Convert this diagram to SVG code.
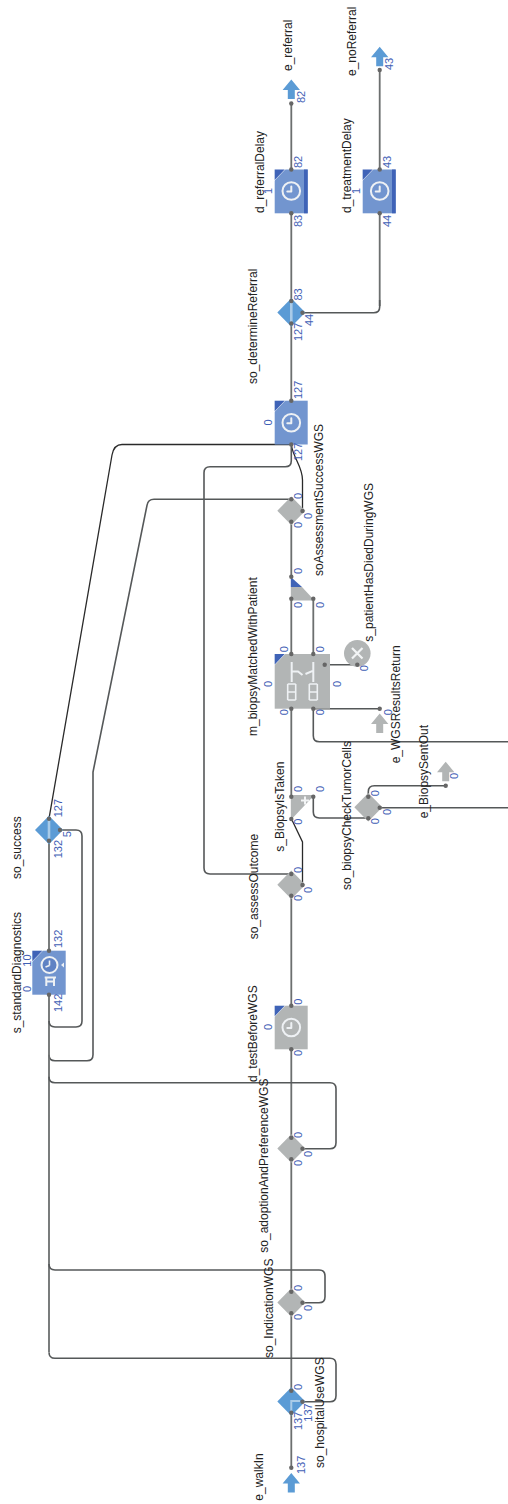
<svg xmlns="http://www.w3.org/2000/svg" width="508" height="1504" viewBox="0 0 508 1504">
<style>
text{font-family:"Liberation Sans",Arial,sans-serif}
.l{font-size:12px;fill:#222}
.n{font-size:11px;fill:#3f60b5}
.c{fill:none;stroke:#6c6f6f;stroke-width:1.8}
.d{fill:none;stroke:#555859;stroke-width:1.6}
.k{fill:none;stroke:#2a2a2a;stroke-width:1.3}
.blue{fill:#7295cf}
.gray{fill:#b2b5b5}
.dia{fill:#5b9bd5}
.fold{fill:#3f63b7}
.ic{fill:none;stroke:#eef1f4;stroke-width:2}
.ic2{fill:none;stroke:#eef1f4;stroke-width:1.6}
.dot{fill:#666}
.mark{fill:none;stroke:#a9cbe8;stroke-width:2}
</style>
<defs>
<g id="clock"><circle r="8.8" class="ic"/><path d="M0 0.500V-4.500M0 0.500H-4" class="ic" stroke-linecap="round"/></g>
<polygon id="arrow" points="0,0 8.700,10.500 3.500,10.500 3.500,19.500 -3.500,19.500 -3.500,10.500 -8.700,10.500"/>
<polygon id="diamond" points="0,-14.200 14,0 0,14.200 -14,0"/>
<g id="corner"><polygon points="-0.500,-0.500 11,-0.500 -0.500,11.500" fill="#ffffff"/><polygon points="0,0 10,0 0,10.500" class="fold"/></g>
<path id="ladder" d="M-4 -8V8M4 -8V8M-4 -8H4M-4 0H4M-4 8H4" class="ic2"/>
</defs>

<g id="connectors">
<path class="c" d="M291.300 169.500V103.500M379.700 169.500V70"/>
<path class="c" d="M291.300 213.300V301M291.300 323.500V400.700M379.700 213.300V306"/>
<path class="d" d="M302.500 312.700H373.700Q379.700 312.700 379.700 306.700V300"/>
<path class="k" d="M49 818.700L112 455Q114 444.500 122 444.500H291.300"/>
<path class="k" d="M291.300 444.500C293 458 302.500 466 302.500 480V511"/>
<path class="d" d="M291.300 444.500V460.700Q291.300 466.700 285.300 466.700H210Q204 466.700 204 472.700V868Q204 874 210 874H291.300"/>
<path class="d" d="M291.300 499.300H154Q148 499.300 147 505.300L93 772V1054.700Q93 1060.700 87 1060.700H55Q49 1060.700 49 1054.700"/>
<path class="c" d="M291.300 521.700V576.700M291.300 598.700V654M313.300 598.700V654M291.300 708.700V796.700"/>
<path class="d" d="M324.700 664.700H357.300M313.300 708.700H379.700"/>
<path class="d" d="M313.300 708.700V735.700Q313.300 741.700 319.300 741.700H508"/>
<path class="k" d="M302.500 885V842L291.500 819"/>
<path class="d" d="M313.300 796.700V812Q313.300 818 319.300 818H368.300"/>
<path class="d" d="M368.300 796.700V791.700Q368.300 785.700 374.300 785.700H445.700"/>
<path class="d" d="M379.700 807.700H508"/>
<path class="c" d="M291.300 895.700V1005.700M291.300 1049.300V1137.700M291.300 1159.300V1291.700M291.300 1313.300V1390.700M291.300 1412.700V1467.700"/>
<path class="c" d="M49 840.700V950.700M49 994.700V1352"/>
<path class="d" d="M60 830H76Q82 830 82 836V1021Q82 1027 76 1027H55Q49 1027 49 1021"/>
<path class="d" d="M49 1076.700Q49 1082.700 55 1082.700H330Q336 1082.700 336 1088.700V1142.700Q336 1148.700 330 1148.700H302.700"/>
<path class="d" d="M49 1264Q49 1270 55 1270H319Q325 1270 325 1276V1296.700Q325 1302.700 319 1302.700H302.700"/>
<path class="d" d="M49 1352.300Q49 1358.300 55 1358.300H330Q336 1358.300 336 1364.300V1395.700Q336 1401.700 330 1401.700H302.700"/>
</g>

<g id="e_referral">
<use href="#arrow" x="291.300" y="79.500" fill="#5b9bd5"/>
<circle class="dot" cx="291.300" cy="103.500" r="2.200"/>
<text class="l" transform="translate(292 71) rotate(-90)">e_referral</text>
<text class="n" transform="translate(305 103) rotate(-90)">82</text>
</g>
<g id="e_noReferral">
<use href="#arrow" x="379.700" y="46.700" fill="#5b9bd5"/>
<circle class="dot" cx="379.700" cy="70" r="2.200"/>
<text class="l" transform="translate(356 76) rotate(-90)">e_noReferral</text>
<text class="n" transform="translate(393 70) rotate(-90)">43</text>
</g>
<g id="d_referralDelay">
<rect class="blue" x="274.700" y="169.500" width="33" height="43.800"/>
<rect class="fold" x="304" y="169.500" width="3.700" height="43.800"/>
<use href="#corner" x="274.700" y="169.500"/>
<use href="#clock" x="291.300" y="191"/>
<circle class="dot" cx="291.300" cy="169.500" r="2.200"/><circle class="dot" cx="291.300" cy="213.300" r="2.200"/>
<text class="l" transform="translate(264 213) rotate(-90)">d_referralDelay</text>
<text class="n" transform="translate(272 194) rotate(-90)">1</text>
<text class="n" transform="translate(302 168) rotate(-90)">82</text>
<text class="n" transform="translate(302 227) rotate(-90)">83</text>
</g>
<g id="d_treatmentDelay">
<rect class="blue" x="362.700" y="169.500" width="33" height="43.800"/>
<rect class="fold" x="392" y="169.500" width="3.700" height="43.800"/>
<use href="#corner" x="362.700" y="169.500"/>
<use href="#clock" x="379.700" y="191"/>
<circle class="dot" cx="379.700" cy="169.500" r="2.200"/><circle class="dot" cx="379.700" cy="213.300" r="2.200"/>
<text class="l" transform="translate(350.700 213) rotate(-90)">d_treatmentDelay</text>
<text class="n" transform="translate(360 194) rotate(-90)">1</text>
<text class="n" transform="translate(391 168) rotate(-90)">43</text>
<text class="n" transform="translate(391 227) rotate(-90)">44</text>
</g>
<g id="so_determineReferral">
<use href="#diamond" x="291.300" y="312.500" class="dia"/>
<rect x="290" y="303" width="2.600" height="19" fill="#a9cbe8"/>
<circle class="dot" cx="291.300" cy="301" r="2.200"/><circle class="dot" cx="291.300" cy="323.500" r="2.200"/><circle class="dot" cx="302.500" cy="312.700" r="2.200"/>
<text class="l" transform="translate(256.700 384) rotate(-90)">so_determineReferral</text>
<text class="n" transform="translate(302 300.500) rotate(-90)">83</text>
<text class="n" transform="translate(302 341) rotate(-90)">127</text>
<text class="n" transform="translate(313 326) rotate(-90)">44</text>
</g>
<g id="assessment_delay">
<rect class="blue" x="274.700" y="400.700" width="33" height="43.800"/>
<use href="#corner" x="274.700" y="400.700"/>
<use href="#clock" x="291.300" y="422.700"/>
<circle class="dot" cx="291.300" cy="400.700" r="2.200"/><circle class="dot" cx="291.300" cy="444.500" r="2.200"/>
<text class="n" transform="translate(302 399) rotate(-90)">127</text>
<text class="n" transform="translate(302 461) rotate(-90)">127</text>
<text class="n" transform="translate(271.700 425.600) rotate(-90)">0</text>
</g>
<g id="soAssessmentSuccessWGS">
<use href="#diamond" x="291.300" y="510.700" class="gray"/>
<circle class="dot" cx="291.300" cy="499.300" r="2.200"/><circle class="dot" cx="291.300" cy="521.700" r="2.200"/><circle class="dot" cx="302.500" cy="511" r="2.200"/>
<text class="l" transform="translate(323 576) rotate(-90)">soAssessmentSuccessWGS</text>
<text class="n" transform="translate(302 499) rotate(-90)">0</text>
<text class="n" transform="translate(312 519) rotate(-90)">0</text>
<text class="n" transform="translate(302 528) rotate(-90)">0</text>
</g>
<g id="patient_gate">
<polygon class="gray" points="290.800,587 302,587 314.500,600.500 290.800,600.500"/>
<polygon class="fold" points="290.800,577 302,587 290.800,587"/>
<circle class="dot" cx="291.300" cy="576.700" r="2.200"/><circle class="dot" cx="291.300" cy="598.700" r="2.200"/><circle class="dot" cx="313.300" cy="598.700" r="2.200"/>
<text class="n" transform="translate(302 574) rotate(-90)">0</text>
<text class="n" transform="translate(302 608) rotate(-90)">0</text>
<text class="n" transform="translate(324 608) rotate(-90)">0</text>
</g>
<g id="m_biopsyMatchedWithPatient">
<rect class="gray" x="274.700" y="654" width="55.300" height="54.700"/>
<use href="#corner" x="274.700" y="654"/>
<path class="ic" d="M291.700 662V682M313.300 662V682M291.700 671.500H298L302.500 675M305.500 674L313.300 670.700"/>
<use href="#ladder" x="291.700" y="692"/>
<use href="#ladder" x="313.300" y="692"/>
<circle class="dot" cx="291.300" cy="654" r="2.200"/><circle class="dot" cx="313.300" cy="654" r="2.200"/><circle class="dot" cx="291.300" cy="708.700" r="2.200"/><circle class="dot" cx="313.300" cy="708.700" r="2.200"/><circle class="dot" cx="324.700" cy="664.700" r="2.200"/>
<text class="l" transform="translate(256.700 736) rotate(-90)">m_biopsyMatchedWithPatient</text>
<text class="n" transform="translate(288 652.300) rotate(-90)">0</text>
<text class="n" transform="translate(324 652.300) rotate(-90)">0</text>
<text class="n" transform="translate(271.700 687) rotate(-90)">0</text>
<text class="n" transform="translate(340.700 687) rotate(-90)">0</text>
<text class="n" transform="translate(288 715.300) rotate(-90)">0</text>
<text class="n" transform="translate(324 715.300) rotate(-90)">0</text>
</g>
<g id="s_patientHasDiedDuringWGS">
<circle class="gray" cx="357.300" cy="653.300" r="13.300"/>
<path d="M352 648L362.500 658.500M362.500 648L352 658.500" fill="none" stroke="#f2f4f5" stroke-width="2.200"/>
<circle class="dot" cx="357.300" cy="664.700" r="2.200"/>
<text class="l" transform="translate(372.700 641.700) rotate(-90)">s_patientHasDiedDuringWGS</text>
<text class="n" transform="translate(368.300 671.300) rotate(-90)">0</text>
</g>
<g id="e_WGSResultsReturn">
<use href="#arrow" x="379.700" y="713.500" class="gray"/>
<circle class="dot" cx="379.700" cy="708.700" r="2.200"/>
<text class="l" transform="translate(400 763.300) rotate(-90)">e_WGSResultsReturn</text>
<text class="n" transform="translate(392.300 715.300) rotate(-90)">0</text>
</g>
<g id="e_BiopsySentOut">
<use href="#arrow" x="445.700" y="761.700" class="gray"/>
<circle class="dot" cx="445.700" cy="785.700" r="2.200"/>
<text class="l" transform="translate(427.700 818.300) rotate(-90)">e_BiopsySentOut</text>
<text class="n" transform="translate(458 779) rotate(-90)">0</text>
</g>
<g id="so_biopsyCheckTumorCells">
<use href="#diamond" x="368.300" y="807.300" class="gray"/>
<circle class="dot" cx="368.300" cy="796.700" r="2.200"/><circle class="dot" cx="368.300" cy="818.300" r="2.200"/><circle class="dot" cx="379.700" cy="807.700" r="2.200"/>
<text class="l" transform="translate(350.700 890) rotate(-90)">so_biopsyCheckTumorCells</text>
<text class="n" transform="translate(379 796.300) rotate(-90)">0</text>
<text class="n" transform="translate(390.700 815) rotate(-90)">0</text>
<text class="n" transform="translate(379 824.300) rotate(-90)">0</text>
</g>
<g id="s_BiopsyIsTaken">
<polygon class="gray" points="290.800,795 314.500,795 290.800,820"/>
<path d="M301 800.500H309M305 796.500V804.500" fill="none" stroke="#f2f4f5" stroke-width="2"/>
<circle class="dot" cx="291.300" cy="796.700" r="2.200"/><circle class="dot" cx="313.300" cy="796.700" r="2.200"/><circle class="dot" cx="291.300" cy="819" r="2.200"/>
<text class="l" transform="translate(284 851.700) rotate(-90)">s_BiopsyIsTaken</text>
<text class="n" transform="translate(302 792) rotate(-90)">0</text>
<text class="n" transform="translate(324 792) rotate(-90)">0</text>
<text class="n" transform="translate(302 824.700) rotate(-90)">0</text>
</g>
<g id="so_assessOutcome">
<use href="#diamond" x="291.300" y="884.700" class="gray"/>
<circle class="dot" cx="291.300" cy="874" r="2.200"/><circle class="dot" cx="291.300" cy="895.700" r="2.200"/><circle class="dot" cx="302.500" cy="885" r="2.200"/>
<text class="l" transform="translate(257.700 939.300) rotate(-90)">so_assessOutcome</text>
<text class="n" transform="translate(302 873) rotate(-90)">0</text>
<text class="n" transform="translate(312 893) rotate(-90)">0</text>
<text class="n" transform="translate(302 901) rotate(-90)">0</text>
</g>
<g id="d_testBeforeWGS">
<rect class="gray" x="274.700" y="1005.700" width="33" height="43.600"/>
<use href="#corner" x="274.700" y="1005.700"/>
<use href="#clock" x="291.300" y="1027.500"/>
<circle class="dot" cx="291.300" cy="1005.700" r="2.200"/><circle class="dot" cx="291.300" cy="1049.300" r="2.200"/>
<text class="l" transform="translate(256.700 1082) rotate(-90)">d_testBeforeWGS</text>
<text class="n" transform="translate(302 1004.700) rotate(-90)">0</text>
<text class="n" transform="translate(302 1056) rotate(-90)">0</text>
<text class="n" transform="translate(271.700 1030) rotate(-90)">0</text>
</g>
<g id="so_adoptionAndPreferenceWGS">
<use href="#diamond" x="291.300" y="1148.500" class="gray"/>
<circle class="dot" cx="291.300" cy="1137.700" r="2.200"/><circle class="dot" cx="291.300" cy="1159.300" r="2.200"/><circle class="dot" cx="302.500" cy="1148.700" r="2.200"/>
<text class="l" transform="translate(268 1252.700) rotate(-90)">so_adoptionAndPreferenceWGS</text>
<text class="n" transform="translate(302 1138) rotate(-90)">0</text>
<text class="n" transform="translate(312 1157) rotate(-90)">0</text>
<text class="n" transform="translate(302 1166) rotate(-90)">0</text>
</g>
<g id="so_IndicationWGS">
<use href="#diamond" x="291.300" y="1302.500" class="gray"/>
<circle class="dot" cx="291.300" cy="1291.700" r="2.200"/><circle class="dot" cx="291.300" cy="1313.300" r="2.200"/><circle class="dot" cx="302.500" cy="1302.700" r="2.200"/>
<text class="l" transform="translate(273.300 1358) rotate(-90)">so_IndicationWGS</text>
<text class="n" transform="translate(302 1291) rotate(-90)">0</text>
<text class="n" transform="translate(312 1311) rotate(-90)">0</text>
<text class="n" transform="translate(302 1320) rotate(-90)">0</text>
</g>
<g id="so_hospitalUseWGS">
<use href="#diamond" x="291.300" y="1401.500" class="dia"/>
<path class="mark" d="M291.300 1411V1401H300"/>
<circle class="dot" cx="291.300" cy="1390.700" r="2.200"/><circle class="dot" cx="291.300" cy="1412.700" r="2.200"/><circle class="dot" cx="302.500" cy="1401.700" r="2.200"/>
<text class="l" transform="translate(324 1468) rotate(-90)">so_hospitalUseWGS</text>
<text class="n" transform="translate(302 1390) rotate(-90)">0</text>
<text class="n" transform="translate(302 1430) rotate(-90)">137</text>
<text class="n" transform="translate(312.300 1421.700) rotate(-90)">137</text>
</g>
<g id="e_walkIn">
<use href="#arrow" x="291.300" y="1473" fill="#5b9bd5"/>
<circle class="dot" cx="291.300" cy="1467.700" r="2.200"/>
<text class="l" transform="translate(262.700 1500.700) rotate(-90)">e_walkIn</text>
<text class="n" transform="translate(305 1474) rotate(-90)">137</text>
</g>
<g id="so_success">
<use href="#diamond" x="49" y="830" class="dia"/>
<rect x="47.700" y="820" width="2.600" height="19" fill="#a9cbe8"/>
<circle class="dot" cx="49" cy="818.700" r="2.200"/><circle class="dot" cx="49" cy="840.700" r="2.200"/><circle class="dot" cx="60" cy="830" r="2.200"/>
<text class="l" transform="translate(20.700 879) rotate(-90)">so_success</text>
<text class="n" transform="translate(61.700 817.300) rotate(-90)">127</text>
<text class="n" transform="translate(61.700 858.300) rotate(-90)">132</text>
<text class="n" transform="translate(71 837.300) rotate(-90)">5</text>
</g>
<g id="s_standardDiagnostics">
<rect class="blue" x="32.300" y="950.700" width="33.400" height="44"/>
<use href="#corner" x="32.300" y="950.700"/>
<circle cx="49.500" cy="965" r="8" fill="#5f82c4" stroke="#eef1f4" stroke-width="2"/>
<path class="ic2" d="M49.500 965.500V960.500M49.500 965.500L45.500 967"/>
<path class="ic" d="M44.700 977.500H56M46.300 977.500V986M54 977.500V986M46.300 981.500H54"/>
<polygon points="64,962.500 64,967.500 61,965" fill="#eef1f4"/>
<circle class="dot" cx="49" cy="950.700" r="2.200"/><circle class="dot" cx="49" cy="994.700" r="2.200"/>
<text class="l" transform="translate(20.700 1033.300) rotate(-90)">s_standardDiagnostics</text>
<text class="n" transform="translate(31 966.700) rotate(-90)">10</text>
<text class="n" transform="translate(31 992) rotate(-90)">0</text>
<text class="n" transform="translate(61.700 948) rotate(-90)">132</text>
<text class="n" transform="translate(61.700 1012) rotate(-90)">142</text>
</g>
</svg>
